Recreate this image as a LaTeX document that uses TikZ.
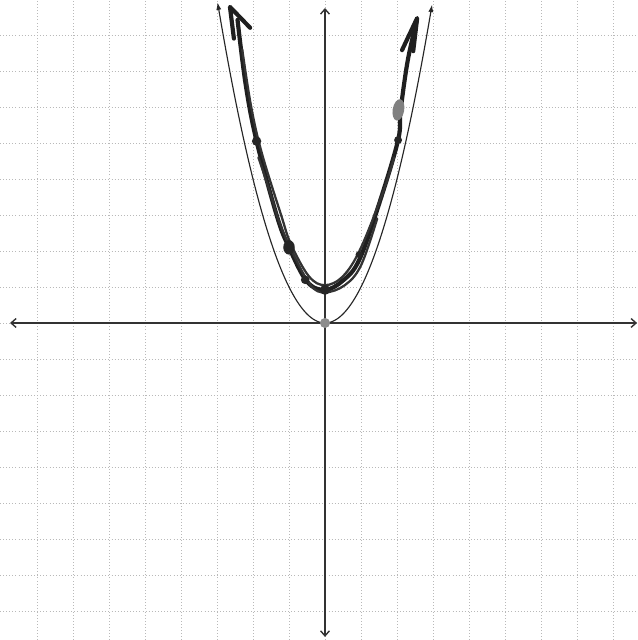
\documentclass[tikz,border=0pt]{standalone}
\usetikzlibrary{arrows.meta}
\begin{document}
\begin{tikzpicture}[x=1cm,y=1cm,
  gridline/.style={gray!55,line width=0.45pt,dotted},
  axisline/.style={black!80,line width=1.1pt,{Straight Barb[length=4pt,width=7pt]}-{Straight Barb[length=4pt,width=7pt]}},
  thinparab/.style={black!85,line width=0.9pt,{Latex[length=6pt,width=4pt]}-{Latex[length=6pt,width=4pt]}},
  handstroke/.style={black!88,line width=3.3pt,line cap=round,line join=round},
  handthin/.style={black!80,line width=1.8pt,line cap=round,line join=round},
  darkdot/.style={fill=black!85},
  greydot/.style={fill=black!45}]
\useasboundingbox[fill=white] (-9.028,-8.806) rectangle (8.694,8.972);
% grid
\foreach \x in {-8,...,8} \draw[gridline] (\x,-8.806) -- (\x,8.972);
\foreach \y in {-8,...,8} \draw[gridline] (-9.028,\y) -- (8.694,\y);
% axes
\coordinate (xl) at (-8.75,0);
\coordinate (xr) at (8.67,0);
\coordinate (yb) at (0,-8.72);
\coordinate (yt) at (0,8.75);
\draw[axisline] (xl) -- (xr);
\draw[axisline] (yb) -- (yt);
% thin parabola y = x^2
\draw[thinparab] plot[domain=-2.985:2.975,samples=120,smooth] (\x,{\x*\x});
% hand drawn parabola (y = x^2 + 1)
\coordinate (hv) at (0,0.92);
\coordinate (hl) at (-1.9,5.05);
\coordinate (hr) at (2.03,5.08);
\draw[handstroke] plot[smooth,tension=0.6] coordinates {(-2.43,8.42) (-2.2,6.6) (-1.9,5.05) (-1.33,2.95) (-1,2.1) (-0.5,1.15) (hv) (0.5,1.18) (0.95,1.75) (1.5,3.3) (hr) (2.1,5.9) (2.3,7.3) (2.55,8.4)};
\draw[handthin] plot[smooth,tension=0.6] coordinates {(-2.3,7.6) (-2.05,6.0) (-1.75,4.7) (-1.22,3.0) (-0.95,2.2) (-0.45,1.3) (0,1.05) (0.5,1.3) (0.98,2.05) (1.6,3.6) (1.92,4.6)};
\draw[handthin] plot[smooth,tension=0.6] coordinates {(-1.85,4.6) (-1.55,3.7) (-1.25,2.75) (-0.9,1.95) (-0.4,1.05) (0,0.85) (0.55,1.05) (1.0,1.6) (1.45,2.9)};
% hand arrowheads
\coordinate (la) at (-2.53,7.9);
\coordinate (lt) at (-2.64,8.78);
\coordinate (lb) at (-2.08,8.2);
\draw[handstroke] (la) -- (lt) -- (lb);
\coordinate (ra) at (2.14,7.58);
\coordinate (rt) at (2.56,8.47);
\coordinate (rb) at (2.45,7.55);
\draw[handstroke] (ra) -- (rt) -- (rb);
% dots
\fill[greydot] (0,0) circle (0.14);
\fill[black!50,rotate around={-10:(2.04,5.92)}] (2.04,5.92) ellipse (0.16 and 0.3);
\fill[darkdot] (hv) circle (0.14);
\fill[darkdot] (hl) circle (0.13);
\fill[darkdot] (hr) circle (0.11);
\fill[darkdot] (-1.0,2.1) ellipse (0.16 and 0.2);
\fill[darkdot] (-0.55,1.2) circle (0.12);
\fill[darkdot] (0.95,1.9) circle (0.1);
\end{tikzpicture}
\end{document}
